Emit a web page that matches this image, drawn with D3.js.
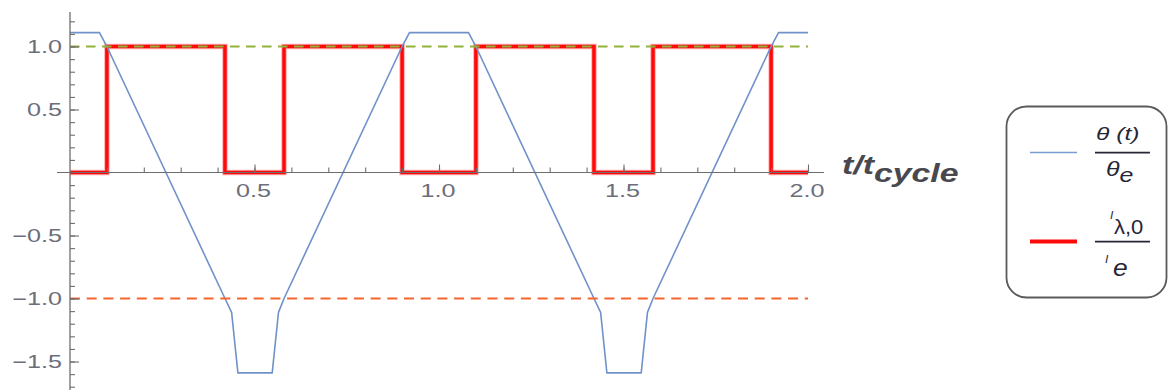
<!DOCTYPE html>
<html>
<head>
<meta charset="utf-8">
<script src="https://cdn.jsdelivr.net/npm/d3@7"></script>
<style>
  html, body { margin: 0; padding: 0; background: #fff; }
  svg { display: block; }
</style>
</head>
<body>
<svg id="chart" width="1169" height="390"></svg>
<script>
// Normalised angle θ(t)/θe over two cycles
const thetaT = [0, 0.08, 0.1, 0.42, 0.438, 0.455, 0.548, 0.565, 0.58, 0.9, 0.92, 1.08, 1.1, 1.42, 1.438, 1.455, 1.548, 1.565, 1.58, 1.9, 1.92, 2.0];
const thetaV = [1.11, 1.11, 1.0, -1.0, -1.11, -1.59, -1.59, -1.11, -1.0, 1.0, 1.11, 1.11, 1.0, -1.0, -1.11, -1.59, -1.59, -1.11, -1.0, 1.0, 1.11, 1.11];

// Normalised current I(λ,0)/Ie, a step function (value holds until the next time)
const currentT = [0, 0.1, 0.42, 0.58, 0.9, 1.1, 1.42, 1.58, 1.9, 2.0];
const currentV = [0, 1, 0, 1, 0, 1, 0, 1, 0, 0];

// Reference levels
const upperLevel = 1.0;
const lowerLevel = -1.0;

// Ticks
const xTickValues = [0.5, 1.0, 1.5, 2.0];
const xTickLabels = ["0.5", "1.0", "1.5", "2.0"];
const yTickValues = [1.0, 0.5, -0.5, -1.0, -1.5];
const yTickLabels = ["1.0", "0.5", "\u22120.5", "\u22121.0", "\u22121.5"];

const svg = d3.select("#chart");

const x = d3.scaleLinear().domain([0, 2]).range([70, 808]);
const y = d3.scaleLinear().domain([-1.73, 1.27]).range([390.5, 12.5]);

const SX = 1.4; // horizontal stretch of the glyphs
function label(g, px, py, str, o = {}) {
  return g.append("text")
    .attr("transform", `translate(${px},${py}) scale(${o.sx || SX},1)`)
    .attr("text-anchor", o.anchor || "start")
    .attr("font-family", "Liberation Sans, Arial, sans-serif")
    .attr("font-size", o.size || 18)
    .attr("font-style", o.italic ? "italic" : "normal")
    .attr("font-weight", o.bold ? "bold" : "normal")
    .attr("fill", o.fill || "#6c6e7a")
    .text(str);
}

// ---- data series ----
const thetaData = thetaT.map((t, i) => [t, thetaV[i]]);
const currentData = currentT.map((t, i) => [t, currentV[i]]);

const line = d3.line().x(d => x(d[0])).y(d => y(d[1]));
const stepLine = d3.line().x(d => x(d[0])).y(d => y(d[1])).curve(d3.curveStepAfter);

// red current, with a faint halo
svg.append("path").datum(currentData)
  .attr("d", stepLine).attr("fill", "none")
  .attr("stroke", "#ffb0b0").attr("stroke-width", 5.5).attr("stroke-linejoin", "miter");
svg.append("path").datum(currentData)
  .attr("d", stepLine).attr("fill", "none")
  .attr("stroke", "#ff0a0a").attr("stroke-width", 3.5).attr("stroke-linejoin", "miter");

// blue angle
svg.append("path").datum(thetaData)
  .attr("d", line).attr("fill", "none")
  .attr("stroke", "#6f92c9").attr("stroke-width", 1.6).attr("stroke-linejoin", "round");

// dashed reference levels
svg.append("line")
  .attr("x1", x(0)).attr("x2", x(2)).attr("y1", y(upperLevel)).attr("y2", y(upperLevel))
  .attr("stroke", "#93b13a").attr("stroke-width", 2.2).attr("stroke-dasharray", "9.5,6.5");
svg.append("line")
  .attr("x1", x(0)).attr("x2", x(2)).attr("y1", y(lowerLevel)).attr("y2", y(lowerLevel))
  .attr("stroke", "#f5652d").attr("stroke-width", 2.2).attr("stroke-dasharray", "10,6.7");

// ---- axes ----
const axisColor = "#6e6e6e";
const gx = svg.append("g").attr("transform", `translate(0,${y(0)})`);
gx.call(d3.axisTop(x).tickValues(d3.range(1, 21).map(i => i / 10)).tickSize(5).tickFormat(""));
gx.call(g => g.selectAll(".domain").remove());
gx.append("g").call(d3.axisTop(x).tickValues(xTickValues).tickSize(8).tickFormat(""))
  .call(g => g.select(".domain").remove());
gx.selectAll("line").attr("stroke", axisColor).attr("stroke-width", 1.1);
svg.append("line").attr("x1", 57).attr("x2", 824).attr("y1", y(0)).attr("y2", y(0))
  .attr("stroke", axisColor).attr("stroke-width", 1.2);

const gy = svg.append("g").attr("transform", `translate(${x(0)},0)`);
gy.call(d3.axisRight(y).tickValues(d3.range(-17, 13).filter(i => i !== 0).map(i => i / 10)).tickSize(5).tickFormat(""));
gy.call(g => g.selectAll(".domain").remove());
gy.append("g").call(d3.axisRight(y).tickValues(yTickValues).tickSize(9).tickFormat(""))
  .call(g => g.select(".domain").remove());
gy.selectAll("line").attr("stroke", axisColor).attr("stroke-width", 1.1);
svg.append("line").attr("x1", x(0)).attr("x2", x(0)).attr("y1", 12).attr("y2", 390)
  .attr("stroke", axisColor).attr("stroke-width", 1.3);

// tick labels
xTickValues.forEach((v, i) => label(svg, x(v) - 1, y(0) + 24, xTickLabels[i], { anchor: "middle" }));
yTickValues.forEach((v, i) => label(svg, 62, y(v) + 6.5, yTickLabels[i], { anchor: "end" }));

// axis title t/t_cycle
const title = label(svg, 842, 174, "", { size: 26, bold: true, italic: true, fill: "#48484e", sx: 1.3 });
title.append("tspan").text("t/t");
title.append("tspan").attr("dy", 8).text("cycle");

// ---- legend ----
const lg = svg.append("g");
lg.append("rect").attr("x", 1006.5).attr("y", 106.5).attr("width", 160).attr("height", 191)
  .attr("rx", 20).attr("ry", 20).attr("fill", "#fff")
  .attr("stroke", "#5a5a5a").attr("stroke-width", 1.8);

lg.append("line").attr("x1", 1030).attr("x2", 1077).attr("y1", 152.5).attr("y2", 152.5)
  .attr("stroke", "#7a9bd0").attr("stroke-width", 1.6);
lg.append("line").attr("x1", 1030).attr("x2", 1077).attr("y1", 241.5).attr("y2", 241.5)
  .attr("stroke", "#ff0a0a").attr("stroke-width", 4);

const legInk = "#262636";
// θ(t) / θe
label(lg, 1096, 139.5, "\u03B8 (t)", { size: 19, italic: true, fill: legInk, sx: 1.3 });
lg.append("line").attr("x1", 1095).attr("x2", 1150).attr("y1", 152.7).attr("y2", 152.7)
  .attr("stroke", legInk).attr("stroke-width", 1.8);
const den1 = label(lg, 1106, 176, "", { size: 20, italic: true, fill: legInk, sx: 1.25 });
den1.append("tspan").text("\u03B8");
den1.append("tspan").attr("dy", 6).text("e");

// I(λ,0) / Ie
label(lg, 1110, 219, "I", { size: 10, italic: true, fill: legInk, sx: 1.2 });
label(lg, 1114, 234, "\u03BB,0", { size: 20, italic: false, fill: legInk, sx: 1.1 });
lg.append("line").attr("x1", 1095).attr("x2", 1150).attr("y1", 241.7).attr("y2", 241.7)
  .attr("stroke", legInk).attr("stroke-width", 1.8);
label(lg, 1105, 263, "I", { size: 10, italic: true, fill: legInk, sx: 1.2 });
label(lg, 1113, 275.5, "e", { size: 24, italic: true, fill: legInk, sx: 1.1 });
</script>
</body>
</html>
